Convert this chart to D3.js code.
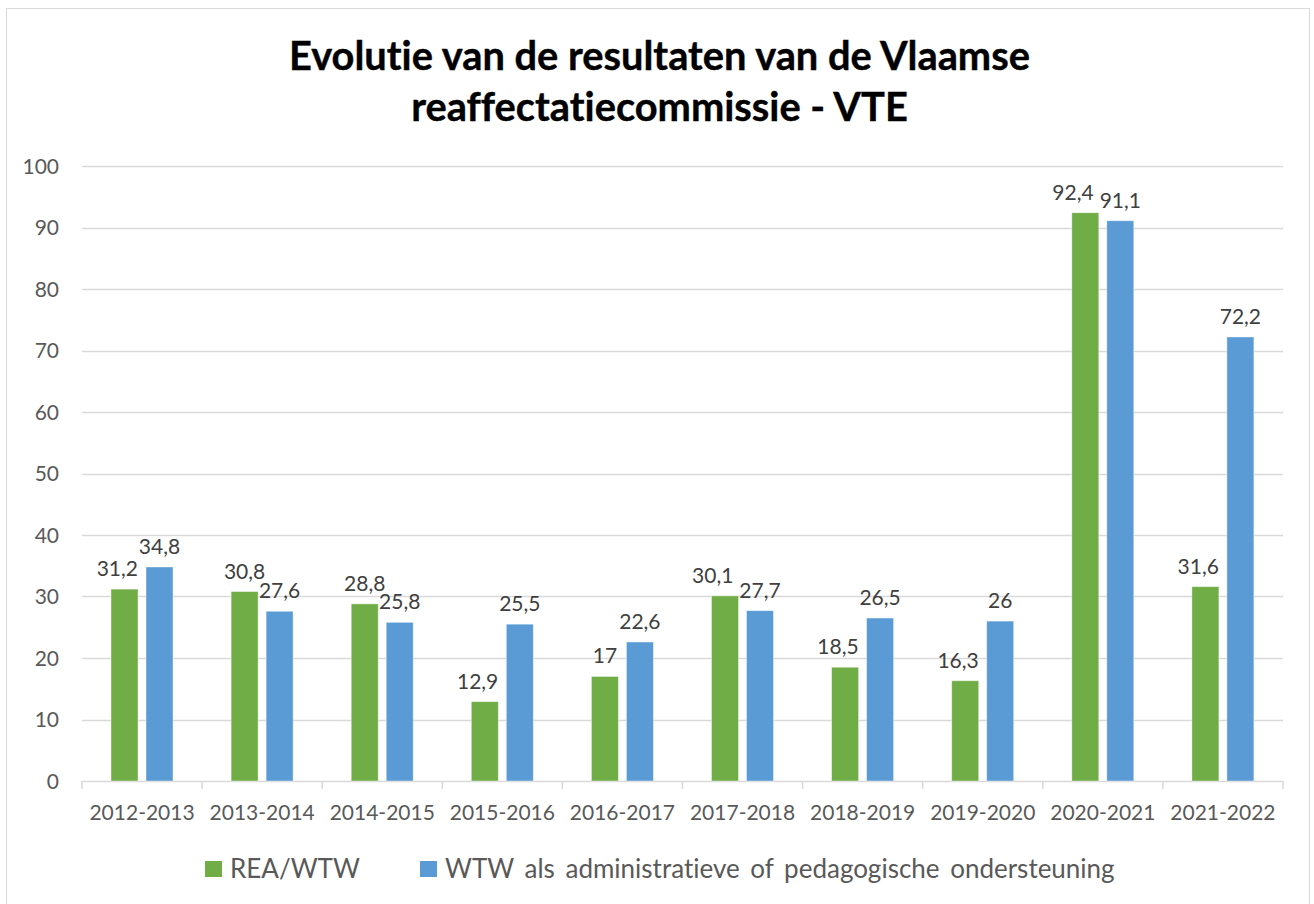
<!DOCTYPE html>
<html><head><meta charset="utf-8">
<script src="https://cdn.jsdelivr.net/npm/d3@7"></script>
<style>body{margin:0;background:#fff}svg{display:block}text{font-variant-ligatures:none;font-feature-settings:"liga" 0}</style>
</head><body>
<svg id="c" width="1314" height="904"></svg>
<script>
const categories = ["2012-2013","2013-2014","2014-2015","2015-2016","2016-2017","2017-2018","2018-2019","2019-2020","2020-2021","2021-2022"];
const seriesNames = ["REA/WTW","WTW als administratieve of pedagogische ondersteuning"];
const reaWtw = [31.2,30.8,28.8,12.9,17,30.1,18.5,16.3,92.4,31.6];
const wtwAdmin = [34.8,27.6,25.8,25.5,22.6,27.7,26.5,26,91.1,72.2];
const yTicks = [0,10,20,30,40,50,60,70,80,90,100];
const colors = ["#70ad47","#5b9bd5"];
const titleLines = ["Evolutie van de resultaten van de Vlaamse","reaffectatiecommissie - VTE"];

const FONT = "Lato, 'Open Sans', sans-serif";
const svg = d3.select("#c");
svg.append("rect").attr("x",6.5).attr("y",8.5).attr("width",1303).attr("height",910)
  .attr("fill","#fff").attr("stroke","#d9d9d9").attr("stroke-width",1);

const L=82, R=1283, T=166, B=781;
const x0 = d3.scaleBand().domain(categories).range([L,R]).padding(0);
const bw = x0.bandwidth();
const x1 = d3.scaleBand().domain([0,1]).range([bw*0.2415,bw*0.7577]).paddingInner(8/35).paddingOuter(0);
const y = d3.scaleLinear().domain([0,100]).range([B,T]);

// title
svg.append("g").selectAll("text").data(titleLines).join("text")
  .attr("x",659.5).attr("y",(d,i)=>70+i*51).attr("text-anchor","middle")
  .attr("font-family",FONT).attr("font-weight","bold").attr("font-size",39.8).attr("fill","#000")
  .attr("stroke","#000").attr("stroke-width",0.4).text(d=>d);

// grid
svg.append("g").selectAll("line").data(yTicks.filter(t=>t>0)).join("line")
  .attr("x1",L).attr("x2",R).attr("y1",d=>Math.round(y(d))+0.5).attr("y2",d=>Math.round(y(d))+0.5)
  .attr("stroke","#d9d9d9").attr("stroke-width",1.5);

// y axis labels
const yAxis = d3.axisLeft(y).tickValues(yTicks).tickSize(0).tickPadding(0).tickFormat(d3.format("d"));
const gy = svg.append("g").attr("transform",`translate(59,0)`).call(yAxis);
gy.select(".domain").remove();
gy.selectAll("text").attr("font-family",FONT).attr("font-size",21).attr("fill","#595959").attr("dy","0.35em");

// x axis
const gx = svg.append("g").attr("transform",`translate(0,${B})`);
gx.append("line").attr("x1",L).attr("x2",R).attr("y1",0.5).attr("y2",0.5).attr("stroke","#d9d9d9").attr("stroke-width",1.5);
const bounds = categories.map(c=>x0(c)).concat([R]);
gx.selectAll("line.tk").data(bounds).join("line").attr("class","tk")
  .attr("x1",d=>d).attr("x2",d=>d).attr("y1",0).attr("y2",8).attr("stroke","#d9d9d9").attr("stroke-width",1.5);
gx.selectAll("text").data(categories).join("text")
  .attr("x",d=>x0(d)+bw/2).attr("y",39).attr("text-anchor","middle")
  .attr("font-family",FONT).attr("font-size",21).attr("fill","#595959").text(d=>d);

// bars
const data = categories.map((c,i)=>({c, v:[reaWtw[i],wtwAdmin[i]]}));
const groups = svg.append("g").selectAll("g").data(data).join("g").attr("transform",d=>`translate(${x0(d.c)},0)`);
groups.selectAll("rect").data(d=>d.v.map((v,k)=>({v,k}))).join("rect")
  .attr("x",d=>x1(d.k)).attr("width",x1.bandwidth())
  .attr("y",d=>y(d.v)).attr("height",d=>B-y(d.v))
  .attr("fill",d=>colors[d.k]).attr("stroke","#ffffff").attr("stroke-opacity",0.5).attr("stroke-width",0.8);

// labels with simple collision avoidance
const fmt = v=>String(v).replace(".",",");
const lab = svg.append("g").attr("font-family",FONT).attr("font-size",21).attr("fill","#404040");
data.forEach(d=>{
  const gx0 = x0(d.c);
  const boxes = d.v.map((v,k)=>{
    const t = lab.append("text").attr("text-anchor","middle").text(fmt(v));
    const w = t.node().getComputedTextLength();
    const cx = gx0 + x1(k) + x1.bandwidth()/2;
    const base = y(v) - 13;
    return {t,w,cx,base,top:base-16,bot:base};
  });
  const g = boxes[0], b = boxes[1];
  const blueBarLeft = gx0 + x1(1), greenBarRight = gx0 + x1(0) + x1.bandwidth();
  const gRight = g.cx + g.w/2;
  const bLeft = b.cx - b.w/2;
  const overlapLabel = gRight > bLeft - 2 && g.bot > b.top && g.top < b.bot;
  const overlapBar = gRight > blueBarLeft - 4 && g.bot > y(d.v[1]);
  if (overlapLabel || overlapBar) {
    let right = greenBarRight;
    if (g.bot > b.top - 4 && g.top < b.bot) right = Math.min(right, bLeft - 6);
    g.cx = right - g.w/2;
  }
  boxes.forEach(o=>o.t.attr("x",o.cx).attr("y",o.base));
});

// legend
const leg = svg.append("g").attr("font-family",FONT).attr("font-size",26).attr("fill","#595959");
const legX = [205,420];
seriesNames.forEach((s,i)=>{
  leg.append("rect").attr("x",legX[i]).attr("y",861).attr("width",17).attr("height",16).attr("fill",colors[i]);
  leg.append("text").attr("x",legX[i]+25).attr("y",878).attr("word-spacing",i===1?4:0).text(s);
});
</script>
</body></html>
